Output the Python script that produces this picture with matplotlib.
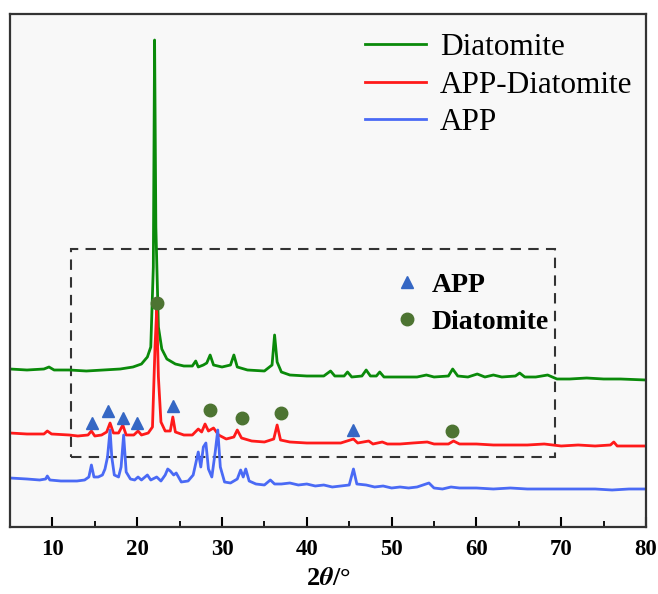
import matplotlib.pyplot as plt
from matplotlib.lines import Line2D
from matplotlib.patches import Rectangle
from matplotlib.ticker import MultipleLocator

plt.rcParams['font.family'] = ['Liberation Serif', 'DejaVu Serif']
plt.rcParams['mathtext.fontset'] = 'stix'

# XRD patterns (2theta in degrees, intensity in a.u., already stacked with offsets)
diatomite_2t = [5, 7, 9, 9.6, 10.2, 12, 14, 16, 18, 19.5, 20.5, 21.2, 21.6, 21.9, 22.05, 22.2,
                22.5, 22.9, 23.5, 24.5, 25.5, 26.5, 26.9, 27.2, 27.8, 28.2, 28.6, 29.0, 30, 31.0,
                31.4, 31.8, 33, 35, 35.9, 36.2, 36.5, 37, 38, 40, 42, 42.8, 43.3, 44.4, 44.8, 45.3,
                46.5, 47.0, 47.5, 48.2, 48.6, 49.1, 51, 53, 54.1, 55, 56.7, 57.2, 57.8, 59, 60.1,
                61, 62.0, 63, 64.6, 65.1, 65.7, 67, 68.4, 69.5, 71, 73, 75, 77, 80]
diatomite_i = [158, 157, 158, 160, 157, 157, 156, 157, 158, 160, 163, 170, 180, 260, 487, 300,
               200, 178, 168, 163, 161, 161, 166, 160, 162, 164, 172, 162, 160, 162,
               172, 160, 157, 156, 162, 192, 165, 155, 152, 151, 151, 156, 151, 151, 155, 150,
               151, 157, 151, 151, 155, 150, 150, 150, 152, 150, 151, 158, 151, 150, 153,
               150, 152, 150, 151, 154, 150, 150, 152, 148, 148, 149, 148, 148, 147]

app_dia_2t = [5, 7, 9, 9.4, 9.9, 12, 13, 14.2, 14.6, 15.0, 15.8, 16.4, 16.8, 17.2, 17.8, 18.3,
              18.7, 19.6, 20.1, 20.5, 21.3, 21.8, 22.1, 22.3, 22.5, 22.8, 23.3, 23.9, 24.2, 24.5,
              25.5, 26.5, 27.2, 27.6, 28.0, 28.4, 29.0, 29.6, 30.5, 31.4, 31.8, 32.3, 33.5, 35,
              36.1, 36.5, 36.9, 38, 40, 42, 44, 45.5, 46, 47.3, 47.8, 48.9, 49.5, 51, 52.5, 54.2,
              55, 56.7, 57.3, 58, 60, 62, 64, 66, 68, 70, 72, 74, 75.8, 76.2, 76.6, 78, 80]
app_dia_i = [94, 93, 93, 96, 93, 92, 91, 92, 96, 91, 92, 95, 104, 94, 94, 102,
             92, 92, 96, 92, 94, 100, 180, 218, 150, 105, 96, 96, 110, 95,
             92, 92, 98, 95, 103, 96, 99, 92, 88, 90, 97, 89, 86, 85,
             88, 102, 87, 85, 84, 84, 84, 88, 84, 86, 83, 85, 83, 83, 84, 85,
             83, 83, 86, 83, 83, 82, 82, 82, 83, 81, 82, 81, 82, 85, 81, 81, 81]

app_2t = [5, 7, 8.5, 9.2, 9.4, 9.7, 11, 12.9, 13.8, 14.3, 14.6, 14.9, 15.4, 15.9, 16.2, 16.5,
          16.8, 17.0, 17.3, 17.8, 18.1, 18.4, 18.7, 19.2, 19.7, 20.1, 20.5, 21.2, 21.6, 22.3,
          22.8, 23.3, 23.6, 23.9, 24.3, 24.6, 25.2, 26.0, 26.6, 27.2, 27.5, 27.8, 28.1, 28.4,
          28.8, 29.2, 29.5, 29.8, 30.3, 31.0, 31.8, 32.2, 32.5, 32.8, 33.2, 34, 35, 35.7, 36.2,
          37, 38, 39, 40, 41, 42, 43, 44, 45.0, 45.5, 45.9, 47, 48, 49, 50, 51, 52, 53, 54.4,
          55, 56, 57, 58, 60, 62, 64, 66, 68, 70, 72, 74, 76, 78, 80]
app_i = [49, 48, 47, 48, 51, 47, 46, 46, 47, 50, 62, 50, 50, 52, 58, 70,
         97, 70, 52, 50, 60, 92, 55, 48, 47, 50, 47, 52, 47, 50,
         46, 52, 58, 56, 52, 54, 45, 46, 52, 75, 60, 80, 84, 58,
         50, 75, 97, 60, 45, 44, 48, 57, 50, 58, 46, 43, 42, 47, 43,
         43, 44, 42, 43, 41, 42, 40, 41, 42, 58, 43, 42, 40, 41, 39, 40, 39, 40, 44,
         39, 38, 40, 39, 39, 38, 39, 38, 38, 38, 38, 38, 37, 38, 38]

# phase markers
app_mark_2t = [14.7, 16.6, 18.3, 20.0, 24.2, 45.5]
app_mark_i = [104, 116, 109, 104, 121, 97]
dia_mark_2t = [22.35, 28.6, 32.4, 37.0, 57.1]
dia_mark_i = [224, 117, 109, 114, 96]

green = '#0a8a0a'
red = '#ff1a1a'
blue = '#4a6af5'
tri_c = '#3567c4'
dot_c = '#4d7432'

fig = plt.figure(figsize=(6.58, 5.94), dpi=100)
ax = fig.add_axes([0.0152, 0.1128, 0.9666, 0.8636])
ax.set_facecolor('#f8f8f8')

l1, = ax.plot(diatomite_2t, diatomite_i, color=green, lw=2.0, label='Diatomite')
l2, = ax.plot(app_dia_2t, app_dia_i, color=red, lw=2.0, label='APP-Diatomite')
l3, = ax.plot(app_2t, app_i, color=blue, lw=2.0, label='APP')

ax.plot(app_mark_2t, app_mark_i, '^', color=tri_c, ms=9, ls='none')
ax.plot(dia_mark_2t, dia_mark_i, 'o', color=dot_c, ms=9, ls='none')

ax.add_patch(Rectangle((12.2, 70), 57.1, 208, fill=False, ec='#333333',
                       lw=1.5, ls=(0, (5, 3.5))))

ax.set_xlim(5, 80)
ax.set_ylim(0, 513)

leg1 = ax.legend(handles=[l1, l2, l3], loc='upper right', bbox_to_anchor=(1.008, 1.0),
                 frameon=False, prop={'size': 22.5}, handlelength=1.95,
                 handletextpad=0.45, labelspacing=0.28, borderaxespad=0.2)
for h in leg1.get_lines():
    h.set_linewidth(2.0)
ax.add_artist(leg1)

mk = [Line2D([], [], marker='^', color=tri_c, ls='none', ms=9),
      Line2D([], [], marker='o', color=dot_c, ls='none', ms=9)]
ax.legend(handles=mk, labels=['APP', 'Diatomite'], loc='upper left',
          bbox_to_anchor=(0.563, 0.545), frameon=False,
          prop={'size': 20, 'weight': 'bold'}, handlelength=1.0,
          handletextpad=0.4, labelspacing=0.42)

ax.xaxis.set_major_locator(MultipleLocator(10))
ax.xaxis.set_minor_locator(MultipleLocator(5))
ax.set_xticks(range(10, 81, 10))
ax.tick_params(axis='x', which='major', direction='in', length=7, width=1.5,
               labelsize=16.5, pad=9)
ax.tick_params(axis='x', which='minor', direction='in', length=4, width=1.3)
ax.tick_params(axis='y', left=False, labelleft=False)
for lab in ax.get_xticklabels():
    lab.set_fontweight('bold')
for s in ax.spines.values():
    s.set_color('#333333')
    s.set_linewidth(1.6)

ax.set_xlabel(r'2$\mathbfit{\theta}$/°', fontsize=19, fontweight='bold', labelpad=5)

fig.savefig('out.png', dpi=100)
